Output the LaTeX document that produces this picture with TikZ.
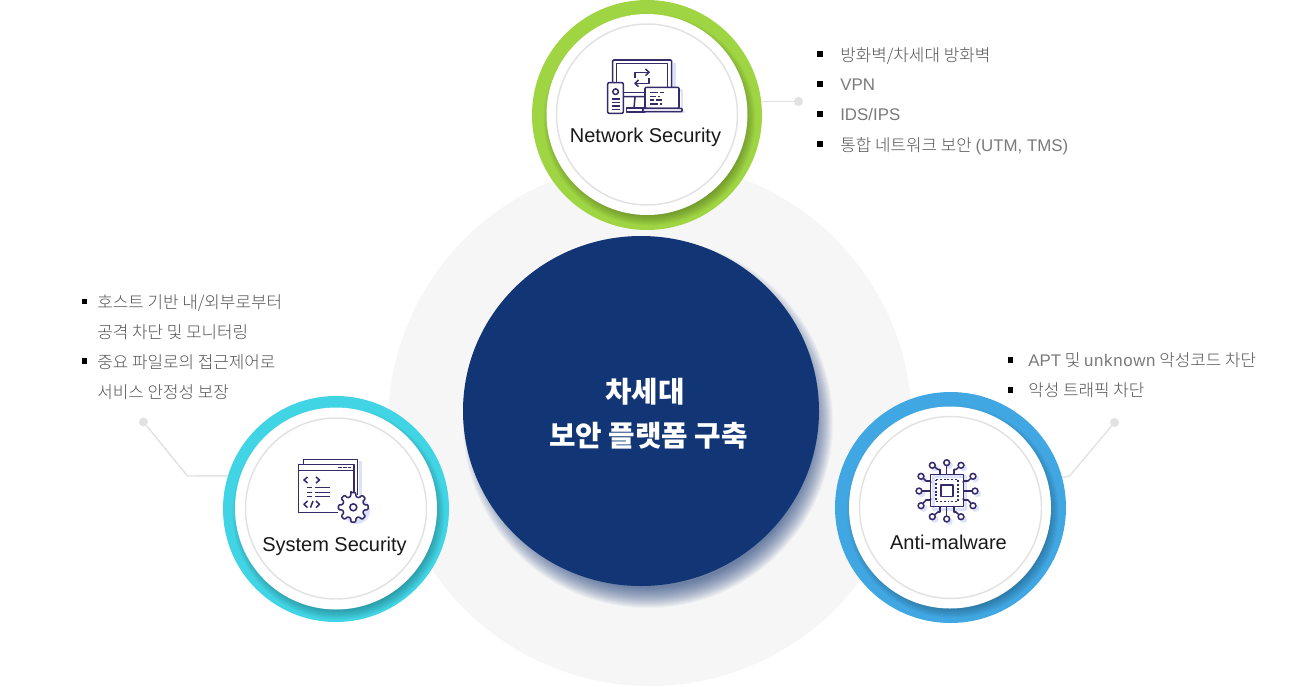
\documentclass[tikz,border=0pt]{standalone}
\usepackage{fontspec}
\setmainfont{Noto Sans CJK KR Light}
\newfontfamily\titlefont{Noto Sans CJK KR Black}
\newfontfamily\labelfont{Liberation Sans}
\newfontfamily\latfont{Liberation Sans}
\usetikzlibrary{shapes.geometric,calc}
\definecolor{bgcirc}{HTML}{F6F6F6}
\definecolor{navy}{HTML}{113575}
\definecolor{greenring}{HTML}{9FD542}
\definecolor{cyanring}{HTML}{41D4E4}
\definecolor{bluering}{HTML}{41A7E2}
\definecolor{linegray}{HTML}{E2E2E2}
\definecolor{bodygray}{HTML}{555555}
\definecolor{latgray}{HTML}{7A7A7A}
\definecolor{ink}{HTML}{352B6B}
\definecolor{lav}{HTML}{DDE1F9}
\newcommand{\lat}[1]{{\latfont\color{latgray}#1}}
\tikzset{
  x=0.75pt,y=-0.75pt,
  ringnode/.style={circle,inner sep=0pt,minimum size=#1*1.5pt},
  innercirc/.style={circle,inner sep=0pt,fill=white,minimum size=#1*1.5pt},
  hairring/.style={circle,inner sep=0pt,draw=linegray,line width=1.1pt,minimum size=#1*1.5pt},
  dotnode/.style={circle,inner sep=0pt,fill=linegray,minimum size=6.8pt},
  conn/.style={draw=linegray,line width=1.1pt},
  bulletsq/.style={rectangle,inner sep=0pt,fill=black,minimum size=3.9pt},
  listtext/.style={anchor=base west,inner sep=0pt,text=bodygray,font=\fontsize{12.65pt}{14pt}\selectfont},
  ringlabel/.style={inner sep=0pt,text=black!90,font=\labelfont\fontsize{15pt}{17pt}\selectfont},
  titletext/.style={inner sep=0pt,text=white,font=\titlefont\fontsize{21.6pt}{24pt}\selectfont},
  ic/.style={draw=ink,line width=1.15pt,line join=round},
  icl/.style={draw=lav,line width=2.2pt,line join=round},
}
\newcommand{\softshadow}[7]{% x y r-start r-end steps opacity colour
  \foreach \k in {0,...,#5}{
    \fill[#7,opacity=#6] (#1,#2) circle ({#3+(#4-#3)*\k/#5});
  }
}
\begin{document}
\begin{tikzpicture}
\useasboundingbox (0,0) rectangle (1300,686);
% background disc
\node[circle,inner sep=0pt,fill=bgcirc,minimum size=393pt] (bg) at (650,424) {};
% navy disc
\softshadow{648}{423}{165}{185}{20}{0.04}{navy}
\node[ellipse,inner sep=0pt,fill=navy,minimum width=267pt,minimum height=262.5pt] (core) at (641,411) {};
\node[titletext] (t1) at (645,391.5) {차세대};
\node[titletext] (t2) at (648.5,435.5) {보안 플랫폼 구축};

% ---------- Network ring
\node[ringnode=115,fill=greenring] (net) at (647,115) {};
\begin{scope}
  \clip (647,115) circle (115);
  \softshadow{649.5}{119.5}{97}{106}{9}{0.038}{black!70!greenring}
\end{scope}
\node[innercirc=100.5] (netw) at (647,114.5) {};
\node[hairring=90.5] (neth) at (647,114.5) {};
\node[ringlabel] (netl) at (645.5,137) {Network Security};

% ---------- System ring
\node[ringnode=113,fill=cyanring] (sys) at (336,509) {};
\begin{scope}
  \clip (336,509) circle (113);
  \softshadow{338.5}{513.5}{97}{106}{9}{0.038}{black!70!cyanring}
\end{scope}
\node[innercirc=101] (sysw) at (336,508.5) {};
\node[hairring=90.5] (sysh) at (336,508.5) {};
\node[ringlabel] (sysl) at (334.5,546) {System Security};

% ---------- Malware ring
\node[ringnode=115.5,fill=bluering] (mal) at (950.5,507.5) {};
\begin{scope}
  \clip (950.5,507.5) circle (115.5);
  \softshadow{953}{512}{97}{106}{9}{0.038}{black!70!bluering}
\end{scope}
\node[innercirc=101] (malw) at (950,507.5) {};
\node[hairring=91] (malh) at (950.5,507.5) {};
\node[ringlabel] (mall) at (948.5,542.5) {Anti-malware};

% ---------- connectors
\node[dotnode] (netdot) at (798.5,101.5) {};
\draw[conn] (netdot) -- (netdot -| net.east);
\node[dotnode] (sysdot) at (143.5,422) {};
\coordinate (sysbend) at (187.5,476);
\draw[conn] (sysdot) -- (sysbend) -- (sys.163);
\node[dotnode] (maldot) at (1114.5,422.5) {};
\coordinate (malbend) at (1069.5,476);
\draw[conn] (maldot) -- (malbend) -- (mal.15.8);

% ---------- lists
\foreach \n/\y in {a/54,b/84,c/114,d/144}{\node[bulletsq] (nb\n) at (820,\y) {};}
\node[listtext] (na) at (840,61) {방화벽/차세대 방화벽};
\node[listtext] (nb) at (840,90.5) {\lat{VPN}};
\node[listtext] (nc) at (840,120.5) {\lat{IDS/IPS}};
\node[listtext] (nd) at (840,151) {통합 네트워크 보안 \lat{(UTM, TMS)}};

\foreach \n/\y in {a/301.5,b/361}{\node[bulletsq] (sb\n) at (84.5,\y) {};}
\node[listtext] (sa) at (97,308.5) {호스트 기반 내/외부로부터};
\node[listtext] (sb) at (97,338.5) {공격 차단 및 모니터링};
\node[listtext] (sc) at (97,368.5) {중요 파일로의 접근제어로};
\node[listtext] (sd) at (97,398.5) {서비스 안정성 보장};

\foreach \n/\y in {a/360,b/390}{\node[bulletsq] (mb\n) at (1010.5,\y) {};}
\node[listtext] (ma) at (1028,366.5) {\lat{APT} 및 \lat{\addfontfeature{LetterSpace=4}unknown} 악성코드 차단};
\node[listtext] (mb) at (1028,396.5) {악성 트래픽 차단};

% ---------- Network icon
\begin{scope}[shift={(3,3)}]
  \draw[icl] (671.7,60) -- (671.7,90);
  \draw[icl] (645,87.3) rectangle (679,108.3);
  \draw[icl] (642.7,109) -- (682.3,109);
\end{scope}
\draw[ic,rounded corners=0.8pt,fill=white] (612.7,60) rectangle (671.7,96.7);
\draw[ic] (616.7,63.3) rectangle (667.7,92.7);
\draw[ic] (635,78) -- (635,72.3) -- (649,72.3);
\draw[ic] (645.5,69) -- (649,72.3) -- (645.5,75.6);
\draw[ic] (649,77.5) -- (649,83.3) -- (635,83.3);
\draw[ic] (638.5,80) -- (635,83.3) -- (638.5,86.6);
\draw[ic] (635,97) -- (634,108);
\draw[ic,fill=white] (626.7,108) rectangle (645,112);
\draw[ic,rounded corners=0.8pt,fill=white] (607.7,82.7) rectangle (623.3,113.3);
\draw[ic] (615.6,91.7) circle (2.8);
\foreach \y in {99,102.5,106,109.3}{\draw[ic] (611.7,\y) -- (619.5,\y);}
\draw[ic,rounded corners=0.8pt,fill=white] (645,87.3) rectangle (679,108.3);
\draw[ic,rounded corners=1pt,fill=white] (642.7,108.3) rectangle (682.3,111.7);
\draw[ic] (650,92.3) -- (658,92.3) (660,92.3) -- (664,92.3);
\draw[ic] (650,96.5) -- (656,96.5) (658,96.5) -- (660,96.5);
\draw[ic] (650,100) -- (654,100) (656,100) -- (662,100);
\draw[ic] (650,104) -- (658,104) (660,104) -- (662,104);

% ---------- System icon
\draw[icl] (360.5,461) -- (360.5,497);
\fill[lav] (356.5,510.5) circle (13.5);
\draw[ic] (303.3,464) -- (303.3,459.3) -- (357.7,459.3) -- (357.7,495);
\draw[ic,fill=white] (338,512.3) -- (298.7,512.3) -- (298.7,464.3) -- (354,464.3) -- (354,493);
\draw[ic] (298.7,470.7) -- (354,470.7);
\draw[ic] (338,467.3) -- (341.5,467.3) (343,467.3) -- (346.5,467.3) (348,467.3) -- (351,467.3);
\draw[ic] (307.5,477) -- (304,480) -- (307.5,483);
\draw[ic] (316,477) -- (319.5,480) -- (316,483);
\draw[ic] (307.3,487.7) -- (311.5,487.7) (315,487.7) -- (330,487.7);
\draw[ic] (307.3,492.3) -- (311.5,492.3) (315,492.3) -- (330,492.3);
\draw[ic] (307.3,496.7) -- (311.5,496.7) (315,496.7) -- (330,496.7);
\draw[ic] (307.5,501) -- (304,504.3) -- (307.5,507.6);
\draw[ic] (316,501) -- (319.5,504.3) -- (316,507.6);
\draw[ic] (310.5,507.6) -- (313,501);
% gear: eight teeth
\draw[ic,fill=white,rounded corners=0.7pt]
  ($(353.3,507.3)+(-99:15)$) \foreach \a in {-90,-45,0,45,90,135,180,225}{
    -- ($(353.3,507.3)+(\a-9:15)$) -- ($(353.3,507.3)+(\a+9:15)$) -- ($(353.3,507.3)+(\a+14:11)$) -- ($(353.3,507.3)+(\a+31:11)$)
  } -- cycle;
\draw[ic] (353.3,507.3) circle (3.5);

% ---------- Chip icon
\begin{scope}[shift={(2.5,2.5)}]
  \draw[icl] (930.7,474.3) rectangle (963.3,506.7);
  \foreach \p in {(932.3,465.3),(946.7,462.7),(961,465.3),(921,476.3),(919,491),(921,505.7),(973,476.3),(975,491),(973,505.7),(932.3,516.7),(946.7,519),(961,516.7)}{
    \fill[lav] \p circle (3.6);
  }
\end{scope}
\draw[ic] (930.7,474.3) rectangle (963.3,506.7);
\draw[ic] (941.2,484.8) rectangle (952.8,496.3);
\draw[ic,dash pattern=on 1.4pt off 1.4pt] (936,479.5) rectangle (958,501.5);
\foreach \cx/\cy/\ex/\ey/\mx/\my in {
  932.3/465.3/940/474.3/938/469.5,
  961/465.3/954/474.3/956/469.5,
  932.3/516.7/940/506.7/938/512,
  961/516.7/954/506.7/956/512,
  921/476.3/930.7/483/926/481,
  973/476.3/963.3/483/968/481,
  921/505.7/930.7/498/926/500,
  973/505.7/963.3/498/968/500}{
  \draw[ic] (\cx,\cy) -- (\mx,\my) -- (\ex,\my) -- (\ex,\ey);
  \draw[ic,fill=white] (\cx,\cy) circle (2.9);
}
\draw[ic] (946.7,465) -- (946.7,474.3) (946.7,506.7) -- (946.7,516.5);
\draw[ic] (921.5,491) -- (930.7,491) (963.3,491) -- (972.5,491);
\foreach \p in {(946.7,462.7),(946.7,519),(919,491),(975,491)}{\draw[ic,fill=white] \p circle (2.9);}
\end{tikzpicture}
\end{document}
